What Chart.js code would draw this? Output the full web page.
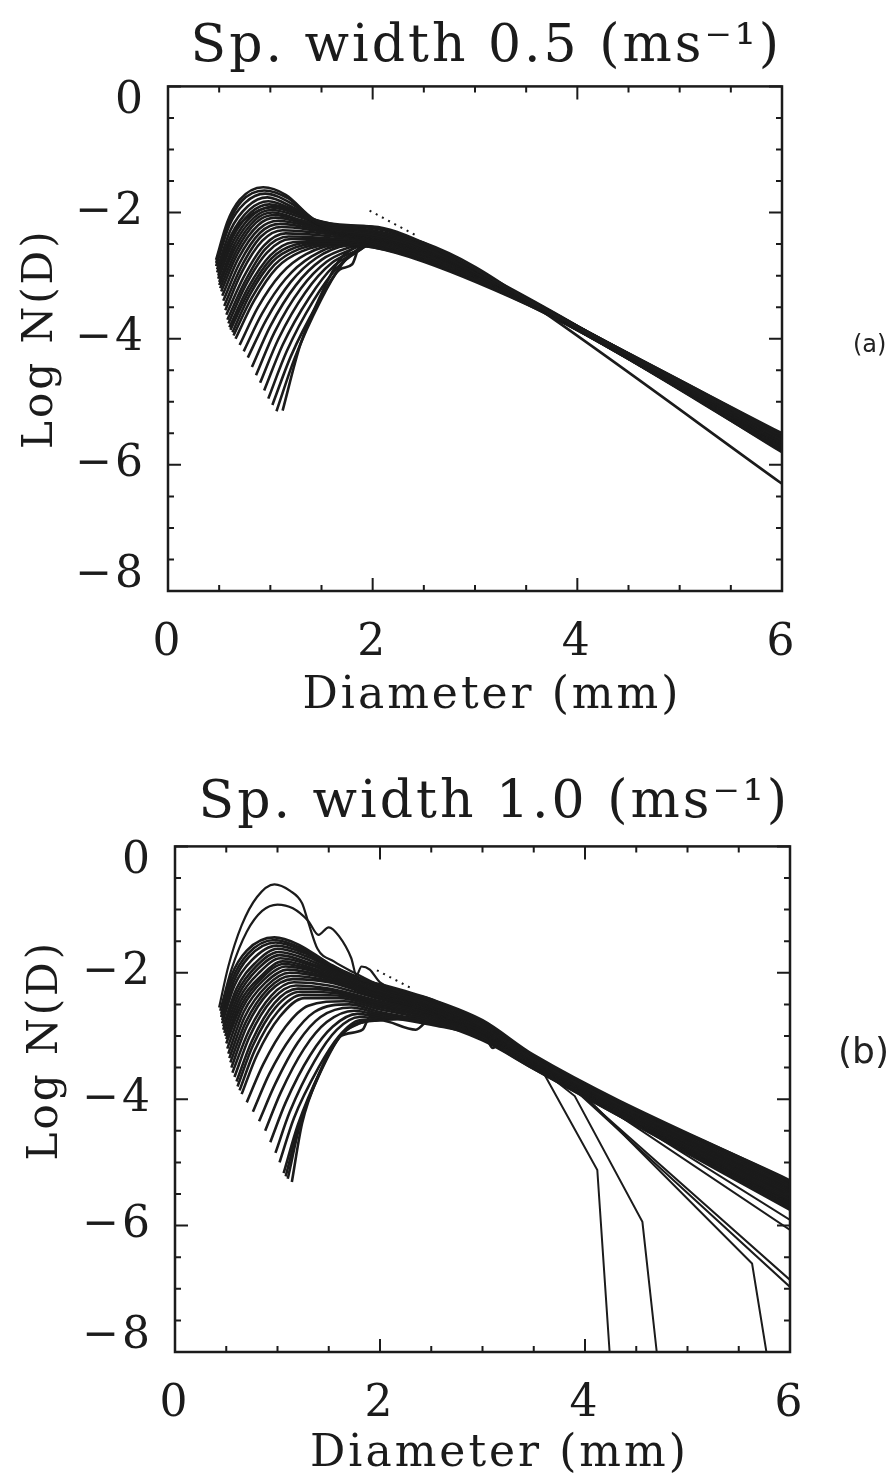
<!DOCTYPE html>
<html>
<head>
<meta charset="utf-8">
<script src="https://cdn.jsdelivr.net/npm/chart.js@4.4.1/dist/chart.umd.min.js"></script>
<style>
  body { margin: 0; background: #fff; }
  .panel { position: relative; width: 895px; height: 741px; }
  .tag { position: absolute; font-family: "DejaVu Sans"; color: #222; }
</style>
</head>
<body>
<div class="panel"><canvas id="chart-a" width="895" height="741"></canvas>
  <div class="tag" style="left:853px;top:330px;font-size:24px;">(a)</div></div>
<div class="panel"><canvas id="chart-b" width="895" height="741"></canvas>
  <div class="tag" style="left:838px;top:289px;font-size:36px;">(b)</div></div>
<script>
// axis ticks (every 0.5, labels on the major ones)
var xTicks = [0, 0.5, 1, 1.5, 2, 2.5, 3, 3.5, 4, 4.5, 5, 5.5, 6];
var yTicks = [-8, -7.5, -7, -6.5, -6, -5.5, -5, -4.5, -4, -3.5, -3, -2.5, -2, -1.5, -1, -0.5, 0];

var titleA = "Sp. width 0.5 (ms\u207B\u00B9)";
var titleB = "Sp. width 1.0 (ms\u207B\u00B9)";

// panel (a): retrieved spectra, [diameter mm, log N(D)]
var curvesA = [
    [[0.47,-2.75],[0.58,-2.15],[0.7,-1.8],[0.93,-1.6],[1.15,-1.72],[1.42,-2.1],[1.6,-2.2],[2.0,-2.22],[2.5,-2.48],[3.7,-3.55],[6,-5.55]],
    [[0.47,-2.8],[0.59,-2.18],[0.72,-1.82],[0.94,-1.65],[1.18,-1.78],[1.44,-2.12],[2.0,-2.23],[2.5,-2.49],[3.7,-3.55],[6,-5.57]],
    [[0.47,-2.85],[0.6,-2.2],[0.75,-1.85],[0.95,-1.7],[1.2,-1.85],[1.45,-2.15],[2.0,-2.25],[2.5,-2.5],[3.7,-3.55],[6,-5.6]],
    [[0.48,-2.9],[0.61,-2.28],[0.78,-1.9],[0.97,-1.76],[1.22,-1.92],[1.48,-2.18],[2.0,-2.28],[2.5,-2.52],[3.7,-3.55],[6,-5.61]],
    [[0.48,-2.95],[0.62,-2.35],[0.8,-1.95],[0.98,-1.82],[1.25,-1.98],[1.5,-2.2],[2.0,-2.3],[2.5,-2.55],[3.7,-3.56],[6,-5.62]],
    [[0.49,-3.0],[0.63,-2.4],[0.81,-2.0],[0.99,-1.87],[1.28,-2.02],[1.52,-2.22],[2.0,-2.32],[2.5,-2.56],[3.7,-3.56],[6,-5.64]],
    [[0.49,-3.05],[0.64,-2.45],[0.82,-2.05],[1.0,-1.92],[1.3,-2.05],[1.55,-2.25],[2.0,-2.35],[2.5,-2.58],[3.7,-3.56],[6,-5.65]],
    [[0.5,-3.1],[0.65,-2.5],[0.84,-2.08],[1.01,-1.96],[1.3,-2.08],[1.58,-2.26],[2.0,-2.36],[2.5,-2.59],[3.7,-3.57],[6,-5.66]],
    [[0.5,-3.15],[0.66,-2.55],[0.85,-2.12],[1.02,-2.0],[1.3,-2.12],[1.6,-2.28],[2.0,-2.38],[2.5,-2.6],[3.7,-3.57],[6,-5.67]],
    [[0.51,-3.2],[0.67,-2.6],[0.86,-2.16],[1.04,-2.04],[1.33,-2.15],[1.6,-2.29],[2.0,-2.39],[2.5,-2.61],[3.7,-3.57],[6,-5.67]],
    [[0.52,-3.25],[0.68,-2.65],[0.88,-2.2],[1.05,-2.08],[1.35,-2.18],[1.6,-2.3],[2.0,-2.4],[2.5,-2.62],[3.7,-3.57],[6,-5.68]],
    [[0.53,-3.32],[0.69,-2.72],[0.89,-2.26],[1.08,-2.13],[1.38,-2.22],[1.65,-2.32],[2.0,-2.41],[2.5,-2.63],[3.7,-3.58],[6,-5.69]],
    [[0.54,-3.4],[0.7,-2.8],[0.9,-2.32],[1.1,-2.18],[1.4,-2.25],[1.7,-2.35],[2.0,-2.42],[2.5,-2.65],[3.7,-3.58],[6,-5.7]],
    [[0.55,-3.48],[0.71,-2.88],[0.91,-2.38],[1.11,-2.23],[1.42,-2.28],[1.72,-2.36],[2.0,-2.43],[2.5,-2.66],[3.7,-3.58],[6,-5.71]],
    [[0.56,-3.55],[0.72,-2.95],[0.92,-2.45],[1.12,-2.28],[1.45,-2.32],[1.75,-2.38],[2.0,-2.45],[2.5,-2.67],[3.7,-3.58],[6,-5.72]],
    [[0.57,-3.62],[0.74,-3.02],[0.94,-2.52],[1.15,-2.33],[1.48,-2.36],[2.0,-2.46],[2.5,-2.68],[3.7,-3.58],[6,-5.72]],
    [[0.58,-3.7],[0.75,-3.1],[0.95,-2.58],[1.18,-2.38],[1.5,-2.4],[2.0,-2.48],[2.5,-2.7],[3.7,-3.59],[6,-5.73]],
    [[0.59,-3.76],[0.76,-3.15],[0.97,-2.63],[1.2,-2.42],[1.52,-2.42],[2.0,-2.49],[2.5,-2.71],[3.7,-3.59],[6,-5.74]],
    [[0.6,-3.82],[0.78,-3.2],[1.0,-2.68],[1.22,-2.47],[1.55,-2.45],[2.0,-2.5],[2.5,-2.72],[3.7,-3.6],[6,-5.75]],
    [[0.61,-3.86],[0.79,-3.25],[1.01,-2.73],[1.24,-2.51],[1.58,-2.46],[2.0,-2.51],[2.5,-2.73],[3.7,-3.6],[6,-5.75]],
    [[0.63,-3.9],[0.8,-3.3],[1.02,-2.78],[1.25,-2.55],[1.6,-2.48],[2.0,-2.52],[2.5,-2.74],[3.7,-3.6],[6,-5.76]],
    [[0.64,-3.95],[0.82,-3.35],[1.04,-2.83],[1.28,-2.58],[1.62,-2.49],[2.0,-2.53],[2.5,-2.75],[3.7,-3.6],[6,-5.77]],
    [[0.66,-4.0],[0.84,-3.4],[1.06,-2.88],[1.3,-2.62],[1.65,-2.5],[2.0,-2.55],[2.5,-2.76],[3.7,-3.61],[6,-5.78]],
    [[0.7,-4.1],[0.88,-3.5],[1.1,-2.98],[1.35,-2.66],[1.7,-2.5],[2.0,-2.55],[2.5,-2.78],[3.7,-3.6],[6,-5.5]],
    [[0.74,-4.2],[0.92,-3.6],[1.15,-3.05],[1.4,-2.7],[1.7,-2.52],[2.0,-2.52],[2.5,-2.75],[3.7,-3.58],[6,-5.52]],
    [[0.78,-4.3],[0.96,-3.7],[1.2,-3.1],[1.45,-2.72],[1.75,-2.52],[2.0,-2.5],[2.5,-2.72],[3.7,-3.57],[6,-5.55]],
    [[0.82,-4.45],[1.0,-3.8],[1.25,-3.15],[1.5,-2.75],[1.78,-2.55],[2.0,-2.48],[2.5,-2.7],[3.7,-3.56],[6,-5.58]],
    [[0.86,-4.58],[1.04,-3.9],[1.3,-3.2],[1.55,-2.78],[1.8,-2.58],[2.0,-2.46],[2.5,-2.68],[3.7,-3.55],[6,-5.6]],
    [[0.9,-4.7],[1.08,-4.0],[1.34,-3.27],[1.6,-2.8],[1.85,-2.6],[2.05,-2.45],[2.5,-2.65],[3.7,-3.55],[6,-5.63]],
    [[0.94,-4.82],[1.12,-4.1],[1.38,-3.35],[1.62,-2.85],[1.85,-2.62],[2.05,-2.43],[2.5,-2.62],[3.7,-3.54],[6,-5.66]],
    [[0.98,-4.95],[1.16,-4.2],[1.42,-3.4],[1.65,-2.88],[1.85,-2.62],[2.1,-2.42],[2.5,-2.6],[3.7,-3.54],[6,-5.7]],
    [[1.02,-5.05],[1.2,-4.28],[1.46,-3.45],[1.68,-2.9],[1.8,-2.82],[1.88,-2.5],[2.1,-2.4],[2.5,-2.58],[3.7,-3.53],[6,-5.73]],
    [[1.06,-5.15],[1.24,-4.3],[1.49,-3.4],[1.7,-2.82],[1.8,-2.65],[2.1,-2.4],[2.5,-2.57],[3.7,-3.53],[6,-5.78]],
    [[1.12,-5.14],[1.29,-4.11],[1.49,-3.32],[1.68,-2.74],[1.8,-2.58],[2.1,-2.38],[2.5,-2.55],[3.7,-3.52],[6,-5.8]],
    [[0.5,-2.9],[0.65,-2.3],[0.85,-2.0],[1.05,-1.9],[1.4,-2.1],[1.8,-2.25],[2.2,-2.36],[2.5,-2.48],[3.0,-2.86],[3.6,-3.5],[6,-6.3]]
];
var dottedA = [[1.97,-1.97],[2.42,-2.36]];

// panel (b)
var curvesB = [
    [[0.45,-2.65],[0.55,-2.05],[0.7,-1.65],[0.97,-1.44],[1.2,-1.55],[1.5,-1.85],[1.8,-2.1],[2.0,-2.18],[2.5,-2.42],[3.0,-2.75],[3.5,-3.3],[6,-5.3]],
    [[0.45,-2.7],[0.56,-2.1],[0.71,-1.7],[0.97,-1.48],[1.22,-1.6],[1.52,-1.88],[2.0,-2.2],[2.5,-2.44],[3.0,-2.78],[3.5,-3.32],[6,-5.32]],
    [[0.46,-2.75],[0.57,-2.15],[0.72,-1.75],[0.98,-1.52],[1.25,-1.65],[1.55,-1.92],[2.0,-2.22],[2.5,-2.45],[3.0,-2.8],[3.5,-3.33],[6,-5.35]],
    [[0.46,-2.8],[0.58,-2.2],[0.75,-1.8],[0.99,-1.57],[1.28,-1.7],[1.58,-1.96],[2.0,-2.24],[2.5,-2.48],[3.0,-2.82],[3.5,-3.36],[6,-5.38]],
    [[0.47,-2.85],[0.6,-2.25],[0.78,-1.85],[1.0,-1.62],[1.3,-1.75],[1.6,-2.0],[2.0,-2.25],[2.5,-2.5],[3.0,-2.85],[3.5,-3.38],[6,-5.4]],
    [[0.47,-2.9],[0.61,-2.3],[0.79,-1.9],[1.01,-1.67],[1.31,-1.8],[1.62,-2.04],[2.0,-2.28],[2.5,-2.51],[3.0,-2.86],[3.5,-3.39],[6,-5.42]],
    [[0.48,-2.95],[0.62,-2.35],[0.8,-1.95],[1.02,-1.72],[1.32,-1.85],[1.65,-2.08],[2.0,-2.3],[2.5,-2.52],[3.0,-2.88],[3.5,-3.4],[6,-5.45]],
    [[0.49,-3.0],[0.63,-2.4],[0.82,-2.0],[1.03,-1.77],[1.34,-1.89],[1.68,-2.12],[2.0,-2.31],[2.5,-2.54],[3.0,-2.89],[3.5,-3.41],[6,-5.48]],
    [[0.5,-3.05],[0.64,-2.45],[0.84,-2.05],[1.05,-1.82],[1.35,-1.93],[1.7,-2.15],[2.0,-2.32],[2.5,-2.55],[3.0,-2.9],[3.5,-3.42],[6,-5.5]],
    [[0.5,-3.12],[0.65,-2.5],[0.85,-2.08],[1.06,-1.86],[1.38,-1.97],[1.72,-2.18],[2.0,-2.34],[2.5,-2.56],[3.0,-2.92],[3.5,-3.43],[6,-5.52]],
    [[0.51,-3.2],[0.66,-2.55],[0.86,-2.12],[1.08,-1.9],[1.4,-2.0],[1.75,-2.22],[2.0,-2.35],[2.5,-2.58],[3.0,-2.93],[3.5,-3.44],[6,-5.55]],
    [[0.52,-3.28],[0.67,-2.62],[0.88,-2.16],[1.1,-1.95],[1.42,-2.04],[1.78,-2.25],[2.0,-2.36],[2.5,-2.59],[3.0,-2.94],[3.5,-3.44],[6,-5.58]],
    [[0.53,-3.35],[0.68,-2.7],[0.9,-2.2],[1.12,-2.0],[1.45,-2.08],[1.8,-2.28],[2.0,-2.38],[2.5,-2.6],[3.0,-2.95],[3.5,-3.45],[6,-5.6]],
    [[0.54,-3.42],[0.69,-2.78],[0.91,-2.25],[1.13,-2.05],[1.48,-2.12],[2.0,-2.39],[2.5,-2.61],[3.0,-2.96],[3.5,-3.46],[6,-5.61]],
    [[0.55,-3.5],[0.7,-2.85],[0.92,-2.3],[1.15,-2.1],[1.5,-2.15],[2.0,-2.4],[2.5,-2.62],[3.0,-2.97],[3.5,-3.47],[6,-5.62]],
    [[0.56,-3.58],[0.72,-2.92],[0.94,-2.36],[1.16,-2.15],[1.5,-2.2],[2.0,-2.42],[2.5,-2.64],[3.0,-2.98],[3.5,-3.47],[6,-5.64]],
    [[0.58,-3.65],[0.73,-3.0],[0.95,-2.42],[1.18,-2.2],[1.5,-2.25],[2.0,-2.45],[2.5,-2.65],[3.0,-3.0],[3.5,-3.48],[6,-5.65]],
    [[0.6,-3.72],[0.75,-3.08],[0.97,-2.48],[1.2,-2.25],[1.52,-2.28],[2.0,-2.48],[2.5,-2.66],[3.0,-3.01],[3.5,-3.49],[6,-5.66]],
    [[0.61,-3.8],[0.76,-3.15],[0.98,-2.55],[1.22,-2.3],[1.55,-2.32],[2.0,-2.5],[2.5,-2.68],[3.0,-3.02],[3.5,-3.5],[6,-5.68]],
    [[0.63,-3.86],[0.78,-3.22],[1.0,-2.62],[1.24,-2.35],[1.58,-2.36],[2.0,-2.52],[2.5,-2.7],[3.0,-3.04],[3.5,-3.5],[6,-5.69]],
    [[0.65,-3.92],[0.8,-3.3],[1.02,-2.7],[1.26,-2.4],[1.6,-2.4],[2.0,-2.55],[2.5,-2.72],[3.0,-3.05],[3.5,-3.5],[6,-5.7]],
    [[0.7,-4.05],[0.86,-3.45],[1.08,-2.85],[1.3,-2.52],[1.65,-2.45],[2.0,-2.58],[2.5,-2.75],[3.0,-3.05],[3.5,-3.52],[6,-5.72]],
    [[0.76,-4.2],[0.92,-3.6],[1.14,-3.0],[1.36,-2.62],[1.7,-2.5],[2.0,-2.62],[2.5,-2.78],[3.0,-3.07],[3.5,-3.52],[6,-5.75]],
    [[0.82,-4.35],[0.98,-3.75],[1.2,-3.1],[1.42,-2.7],[1.72,-2.55],[2.0,-2.65],[2.5,-2.8],[3.0,-3.0],[3.5,-3.5],[6,-5.5]],
    [[0.88,-4.5],[1.03,-3.9],[1.26,-3.2],[1.48,-2.78],[1.75,-2.6],[2.0,-2.68],[2.5,-2.82],[3.0,-3.02],[3.5,-3.48],[6,-5.45]],
    [[0.93,-4.68],[1.08,-4.05],[1.32,-3.3],[1.54,-2.85],[1.78,-2.65],[2.0,-2.7],[2.5,-2.78],[3.0,-2.98],[3.5,-3.45],[6,-5.4]],
    [[0.98,-4.85],[1.12,-4.2],[1.36,-3.4],[1.58,-2.9],[1.8,-2.7],[2.0,-2.72],[2.5,-2.75],[3.0,-2.95],[3.5,-3.45],[6,-5.55]],
    [[1.02,-5.0],[1.16,-4.3],[1.4,-3.5],[1.6,-3.0],[1.8,-2.75],[2.0,-2.74],[2.5,-2.72],[3.0,-2.92],[3.5,-3.44],[6,-5.6]],
    [[1.06,-5.17],[1.2,-4.4],[1.42,-3.55],[1.62,-3.0],[1.83,-2.9],[1.9,-2.7],[2.0,-2.72],[2.5,-2.7],[3.0,-2.9],[3.5,-3.44],[6,-5.65]],
    [[1.08,-5.22],[1.21,-4.42],[1.42,-3.57],[1.61,-3.01],[1.8,-2.8],[2.0,-2.74],[2.5,-2.71],[3.0,-2.9],[3.5,-3.43],[6,-5.67]],
    [[1.1,-5.26],[1.22,-4.4],[1.41,-3.58],[1.6,-3.02],[1.76,-2.82],[2.0,-2.75],[2.5,-2.72],[3.0,-2.9],[3.5,-3.43],[6,-5.72]],
    [[1.14,-5.31],[1.24,-4.38],[1.41,-3.59],[1.6,-3.02],[1.73,-2.83],[2.0,-2.75],[2.35,-2.9],[2.5,-2.72],[3.0,-2.9],[3.1,-3.19],[3.2,-3.05],[3.5,-3.42],[6,-5.7]]
];
// the two high curves at the top of panel (b)
var outliersB = [
    [[0.43,-2.55],[0.52,-1.9],[0.65,-1.25],[0.8,-0.8],[0.97,-0.6],[1.12,-0.7],[1.24,-0.9],[1.3,-1.2],[1.39,-1.62],[1.55,-1.82],[1.75,-2.0],[2.0,-2.2],[2.5,-2.45],[3.0,-2.8],[3.5,-3.35],[6,-5.28]],
    [[0.44,-2.6],[0.55,-1.95],[0.7,-1.35],[0.85,-1.02],[1.0,-0.92],[1.15,-0.98],[1.3,-1.18],[1.4,-1.4],[1.5,-1.28],[1.6,-1.42],[1.72,-1.77],[1.77,-2.04],[1.82,-1.9],[1.9,-1.95],[2.0,-2.15],[2.5,-2.42],[3.0,-2.78],[3.5,-3.35],[6,-5.3]]
];
// thin lines that fall away from the band at large diameters
var dropoutsB = [
    [[2.5,-2.6],[3.0,-2.95],[3.55,-3.45],[4.12,-5.12],[4.24,-8]],
    [[2.5,-2.62],[3.0,-2.97],[3.55,-3.5],[3.9,-3.95],[4.56,-5.94],[4.7,-8]],
    [[2.5,-2.65],[3.0,-3.0],[3.6,-3.55],[4.0,-3.95],[5.63,-6.6],[5.77,-8]],
    [[2.5,-2.65],[3.0,-3.0],[3.6,-3.55],[3.9,-3.85],[6,-6.97]],
    [[2.5,-2.66],[3.0,-3.0],[3.6,-3.55],[3.9,-3.84],[6,-6.86]],
    [[2.5,-2.64],[3.0,-2.98],[3.6,-3.52],[4.0,-3.9],[6,-6.07]],
    [[2.5,-2.63],[3.0,-2.97],[3.6,-3.52],[4.0,-3.88],[6,-5.91]]
];
var dottedB = [[1.97,-1.96],[2.3,-2.24]];

var ink = "#1b1b1b";
var serif = "DejaVu Serif";
var nb = "\u00A0";

// wide letter spacing like the original typesetting
var spacing = {
    id: "spacing",
    beforeDraw: function (chart) { chart.ctx.letterSpacing = "3px"; }
};

// box + inward ticks on all four sides
var frameTicks = {
    id: "frameTicks",
    afterDatasetsDraw: function (chart) {
        var ctx = chart.ctx, a = chart.chartArea;
        var xs = chart.scales.x, ys = chart.scales.y;
        ctx.save();
        ctx.strokeStyle = ink;
        ctx.lineWidth = 2.5;
        ctx.strokeRect(a.left, a.top, a.right - a.left, a.bottom - a.top);
        ctx.lineWidth = 2;
        ctx.beginPath();
        xs.ticks.forEach(function (t) {
            var px = xs.getPixelForValue(t.value);
            var len = t.value % 2 === 0 ? 13 : 6;
            ctx.moveTo(px, a.bottom); ctx.lineTo(px, a.bottom - len);
            ctx.moveTo(px, a.top); ctx.lineTo(px, a.top + len);
        });
        ys.ticks.forEach(function (t) {
            var py = ys.getPixelForValue(t.value);
            var len = t.value % 2 === 0 ? 13 : 6;
            ctx.moveTo(a.left, py); ctx.lineTo(a.left + len, py);
            ctx.moveTo(a.right, py); ctx.lineTo(a.right - len, py);
        });
        ctx.stroke();
        ctx.restore();
    }
};

function toSet(pts, extra) {
    var ds = {
        data: pts.map(function (p) { return { x: p[0], y: p[1] }; }),
        borderColor: ink,
        borderWidth: 2.6,
        pointRadius: 0,
        cubicInterpolationMode: "monotone",
        fill: false
    };
    return Object.assign(ds, extra || {});
}

function num(v) {
    return v < 0 ? "\u2212" + Math.abs(v) : String(v);
}
function xLabel(v) {
    return v % 2 === 0 ? num(v) : "";
}
// end labels of the y axis sit a little inside the box
function yLabel(v) {
    if (v % 2 !== 0) return "";
    if (v === 0) return ["", num(v)];
    if (v === -8) return [num(v), ""];
    return num(v);
}

function makeChart(id, title, xTitle, yTitle, sets, box) {
    new Chart(document.getElementById(id), {
        type: "line",
        data: { datasets: sets },
        options: {
            responsive: false,
            animation: false,
            layout: { padding: { left: 0, right: box.right, top: 0, bottom: 0 } },
            plugins: {
                legend: { display: false },
                tooltip: { enabled: false },
                title: {
                    display: true,
                    text: title,
                    align: "end",
                    color: ink,
                    font: { family: serif, size: 52, weight: "normal" },
                    padding: { top: box.titleTop, bottom: box.titleBottom }
                }
            },
            scales: {
                x: {
                    type: "linear",
                    min: 0,
                    max: 6,
                    afterBuildTicks: function (s) { s.ticks = xTicks.map(function (v) { return { value: v }; }); },
                    afterFit: function (s) { s.height = box.xHeight; },
                    grid: { display: false },
                    border: { display: false },
                    ticks: {
                        autoSkip: false,
                        maxRotation: 0,
                        padding: 18,
                        color: ink,
                        font: { family: serif, size: 44 },
                        callback: xLabel
                    },
                    title: {
                        display: true,
                        text: xTitle,
                        color: ink,
                        font: { family: serif, size: 44 },
                        padding: { top: 0, bottom: box.xTitlePad }
                    }
                },
                y: {
                    type: "linear",
                    min: -8,
                    max: 0,
                    afterBuildTicks: function (s) { s.ticks = yTicks.map(function (v) { return { value: v }; }); },
                    afterFit: function (s) { s.width = box.left; },
                    grid: { display: false },
                    border: { display: false },
                    ticks: {
                        autoSkip: false,
                        padding: 14,
                        color: ink,
                        font: { family: serif, size: 44, lineHeight: 0.68 },
                        callback: yLabel
                    },
                    title: {
                        display: true,
                        text: yTitle,
                        color: ink,
                        font: { family: serif, size: 42 },
                        padding: { top: box.yTitlePad, bottom: 0 }
                    }
                }
            }
        },
        plugins: [spacing, frameTicks]
    });
}

var setsA = curvesA.map(function (c) { return toSet(c); });
setsA.push(toSet(dottedA, { borderDash: [2, 5], borderWidth: 2, cubicInterpolationMode: "default", tension: 0 }));

var setsB = curvesB.map(function (c) { return toSet(c); })
    .concat(outliersB.map(function (c) { return toSet(c, { borderWidth: 2.2 }); }))
    .concat(dropoutsB.map(function (c) { return toSet(c, { borderWidth: 2, cubicInterpolationMode: "default", tension: 0 }); }));
setsB.push(toSet(dottedB, { borderDash: [2, 5], borderWidth: 2, cubicInterpolationMode: "default", tension: 0 }));

// leading spaces nudge the axis titles off centre, as in the original
makeChart("chart-a", titleA, nb + nb + "Diameter (mm)", "Log N(D)", setsA,
    { left: 168, right: 113, titleTop: 16, titleBottom: 8, xHeight: 150, xTitlePad: 18, yTitlePad: 16 });
makeChart("chart-b", titleB, nb + nb + "Diameter (mm)", nb + nb + nb + nb + nb + nb + "Log N(D)", setsB,
    { left: 175, right: 105, titleTop: 31, titleBottom: 12, xHeight: 130, xTitlePad: 1, yTitlePad: 21 });
</script>
</body>
</html>
